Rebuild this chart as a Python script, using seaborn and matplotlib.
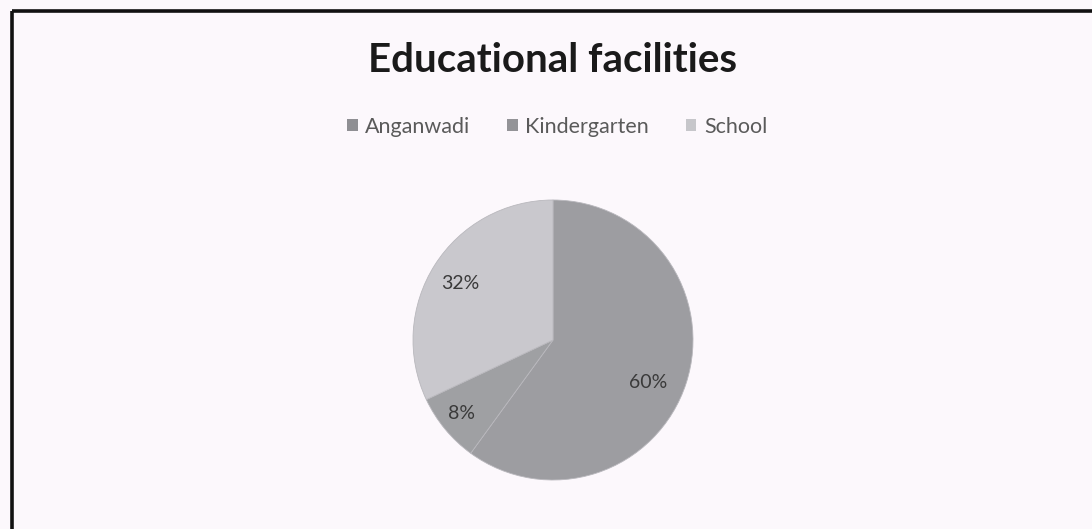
import numpy as np
import matplotlib
matplotlib.use("Agg")
import matplotlib.pyplot as plt
from matplotlib.lines import Line2D
from matplotlib.patches import Patch
import seaborn as sns

categories = ["Anganwadi", "Kindergarten", "School"]
shares = [60, 8, 32]
slice_colors = ["#9d9da1", "#9fa0a3", "#c9c8cd"]
legend_colors = ["#8f8f93", "#939397", "#c6c6ca"]

sns.set_theme(style="white")
plt.rcParams["font.family"] = ["Lato", "DejaVu Sans"]

W, H = 1092, 529
fig = plt.figure(figsize=(W / 100, H / 100), dpi=100)
bg = "#fcf8fc"
fig.patch.set_facecolor(bg)

# frame lines along the top and left edges
fig.add_artist(Line2D([12 / W, 1.0], [1 - 11 / H, 1 - 11 / H], transform=fig.transFigure,
                      color="#111111", lw=2.6, solid_capstyle="butt"))
fig.add_artist(Line2D([12 / W, 12 / W], [0.0, 1 - 11 / H], transform=fig.transFigure,
                      color="#111111", lw=2.6, solid_capstyle="butt"))

# pie axes centred under the title
cx, cy, r, half = 553, 340, 140, 150
ax = fig.add_axes([(cx - half) / W, (H - cy - half) / H, 2 * half / W, 2 * half / H])
ax.set_facecolor(bg)
wedges, texts, autotexts = ax.pie(
    shares, colors=slice_colors, startangle=90, counterclock=False,
    autopct=lambda p: f"{p:.0f}%", pctdistance=0.78,
    wedgeprops=dict(edgecolor="#b9b8bd", linewidth=0.6),
    textprops=dict(color="#3a3a3a", fontsize=14),
)
ax.set_xlim(-half / r, half / r)
ax.set_ylim(-half / r, half / r)
ax.set_aspect("equal")
ax.axis("off")

# best-fit style placement of the percentage labels (angle offset in degrees, radius)
label_shift = [(-6, 0.74), (-1, 0.84), (1, 0.78)]
start = 90.0
for w, t, (dang, rad) in zip(shares, autotexts, label_shift):
    mid = start - w * 3.6 / 2 + dang
    t.set_position((rad * np.cos(np.radians(mid)), rad * np.sin(np.radians(mid))))
    start -= w * 3.6

fig.text(cx / W, 1 - 60 / H, "Educational facilities", ha="center", va="center",
         fontsize=29, fontweight="bold", color="#1a1a1a")

handles = [Patch(facecolor=c, edgecolor="none") for c in legend_colors]
fig.legend(handles, categories, loc="center", bbox_to_anchor=(557 / W, 1 - 127 / H),
           ncol=3, frameon=False, fontsize=15.5, handlelength=0.5, handleheight=0.5,
           handletextpad=0.35, columnspacing=1.7, labelcolor="#5a5a5a")

fig.savefig("out.png", dpi=100, facecolor=bg)
